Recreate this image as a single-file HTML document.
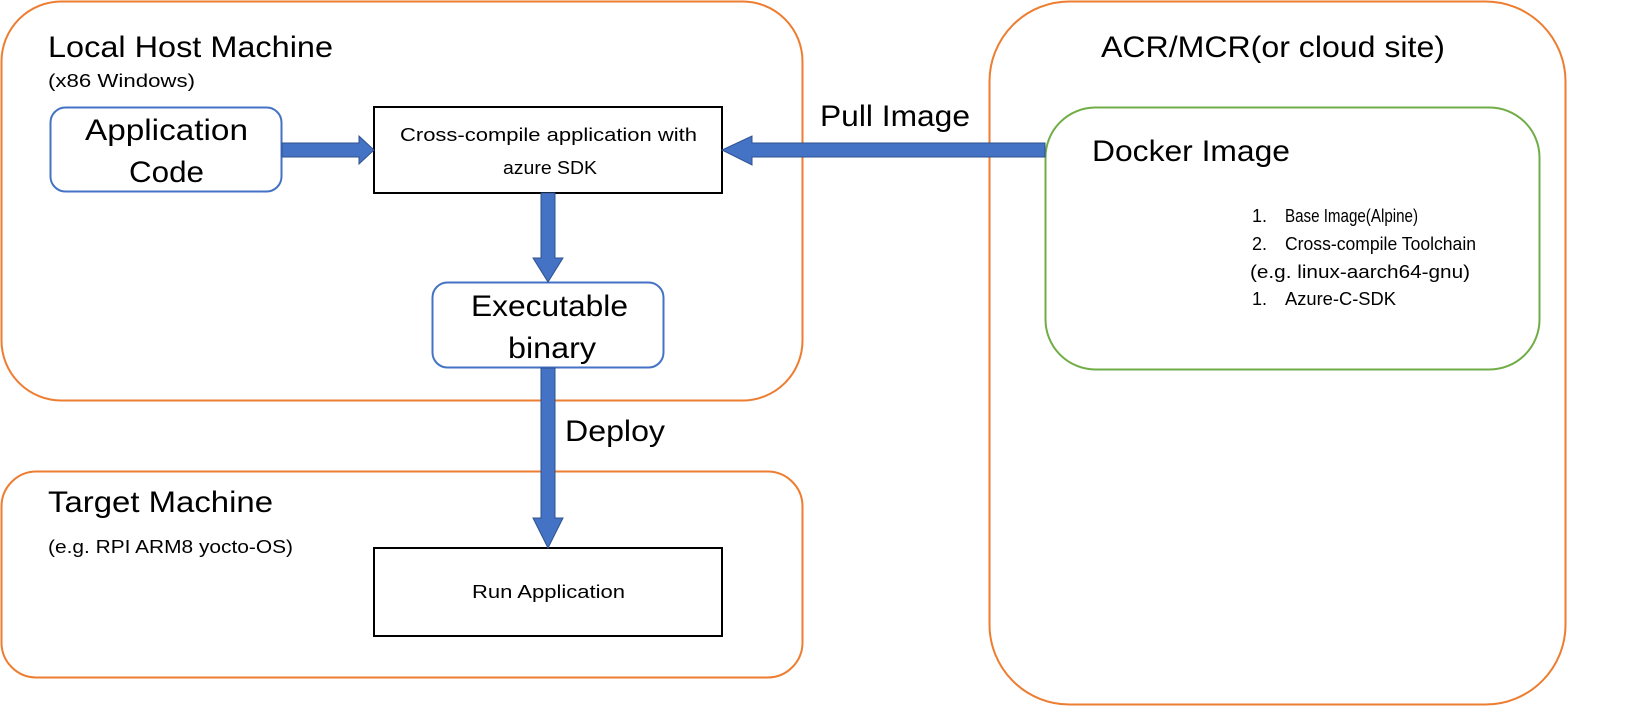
<!DOCTYPE html>
<html><head><style>body{margin:0;background:#fff}svg{display:block}text{font-family:"Liberation Sans",sans-serif;fill:#000}</style></head>
<body>
<svg width="1632" height="707" viewBox="0 0 1632 707" xmlns="http://www.w3.org/2000/svg">
<rect x="1.5" y="1.5" width="801" height="399" rx="60" fill="#fff" stroke="#ED7D31" stroke-width="2"/>
<rect x="1.5" y="471.5" width="801" height="206" rx="35" fill="#fff" stroke="#ED7D31" stroke-width="2"/>
<rect x="989.5" y="1.5" width="576" height="703" rx="80" fill="#fff" stroke="#ED7D31" stroke-width="2"/>
<rect x="1045.5" y="107.5" width="494" height="262" rx="50" fill="#fff" stroke="#70AD47" stroke-width="2"/>
<g lengthAdjust="spacingAndGlyphs">
<text x="48" y="57" font-size="30" textLength="285" lengthAdjust="spacingAndGlyphs">Local Host Machine</text>
<text x="48" y="87" font-size="18" textLength="147" lengthAdjust="spacingAndGlyphs">(x86 Windows)</text>
<rect x="50.5" y="107.5" width="231" height="84" rx="15" fill="#fff" stroke="#4472C4" stroke-width="2"/>
<text x="85" y="140" font-size="30" textLength="163" lengthAdjust="spacingAndGlyphs">Application</text>
<text x="129" y="182" font-size="30" textLength="75" lengthAdjust="spacingAndGlyphs">Code</text>
<rect x="374" y="107" width="348" height="86" fill="#fff" stroke="#000" stroke-width="2"/>
<text x="400" y="141" font-size="18" textLength="297" lengthAdjust="spacingAndGlyphs">Cross-compile application with</text>
<text x="503" y="174" font-size="18" textLength="94" lengthAdjust="spacingAndGlyphs">azure SDK</text>
<rect x="432.5" y="282.5" width="231" height="85" rx="15" fill="#fff" stroke="#4472C4" stroke-width="2"/>
<text x="471" y="316" font-size="30" textLength="157" lengthAdjust="spacingAndGlyphs">Executable</text>
<text x="508" y="358" font-size="30" textLength="88" lengthAdjust="spacingAndGlyphs">binary</text>
<text x="48" y="512" font-size="30" textLength="225" lengthAdjust="spacingAndGlyphs">Target Machine</text>
<text x="48" y="553" font-size="18" textLength="245" lengthAdjust="spacingAndGlyphs">(e.g. RPI ARM8 yocto-OS)</text>
<rect x="374" y="548" width="348" height="88" fill="#fff" stroke="#000" stroke-width="2"/>
<text x="472" y="598" font-size="18" textLength="153" lengthAdjust="spacingAndGlyphs">Run Application</text>
<text x="1101" y="57" font-size="30" textLength="344" lengthAdjust="spacingAndGlyphs">ACR/MCR(or cloud site)</text>
<text x="1092" y="161" font-size="30" textLength="198" lengthAdjust="spacingAndGlyphs">Docker Image</text>
<text x="820" y="126" font-size="30" textLength="150" lengthAdjust="spacingAndGlyphs">Pull Image</text>
<text x="565" y="441" font-size="30" textLength="100" lengthAdjust="spacingAndGlyphs">Deploy</text>
<text x="1252" y="222" font-size="18">1.</text><text x="1285" y="222" font-size="18" textLength="133" lengthAdjust="spacingAndGlyphs">Base Image(Alpine)</text>
<text x="1252" y="250" font-size="18">2.</text><text x="1285" y="250" font-size="18" textLength="191" lengthAdjust="spacingAndGlyphs">Cross-compile Toolchain</text>
<text x="1250" y="278" font-size="18" textLength="220" lengthAdjust="spacingAndGlyphs">(e.g. linux-aarch64-gnu)</text>
<text x="1252" y="305" font-size="18">1.</text><text x="1285" y="305" font-size="18" textLength="111" lengthAdjust="spacingAndGlyphs">Azure-C-SDK</text>
</g>
<g fill="#4472C4" stroke="#2F528F" stroke-width="1">
<polygon points="282,143 359,143 359,136 374,150 359,164 359,157 282,157"/>
<polygon points="541,193 555,193 555,258 563,258 548,282 533,258 541,258"/>
<polygon points="541,368 555,368 555,518 563,518 548,548 533,518 541,518"/>
<polygon points="1045,143 752,143 752,136 722,150 752,165 752,157 1045,157"/>
</g>
</svg>
</body></html>
